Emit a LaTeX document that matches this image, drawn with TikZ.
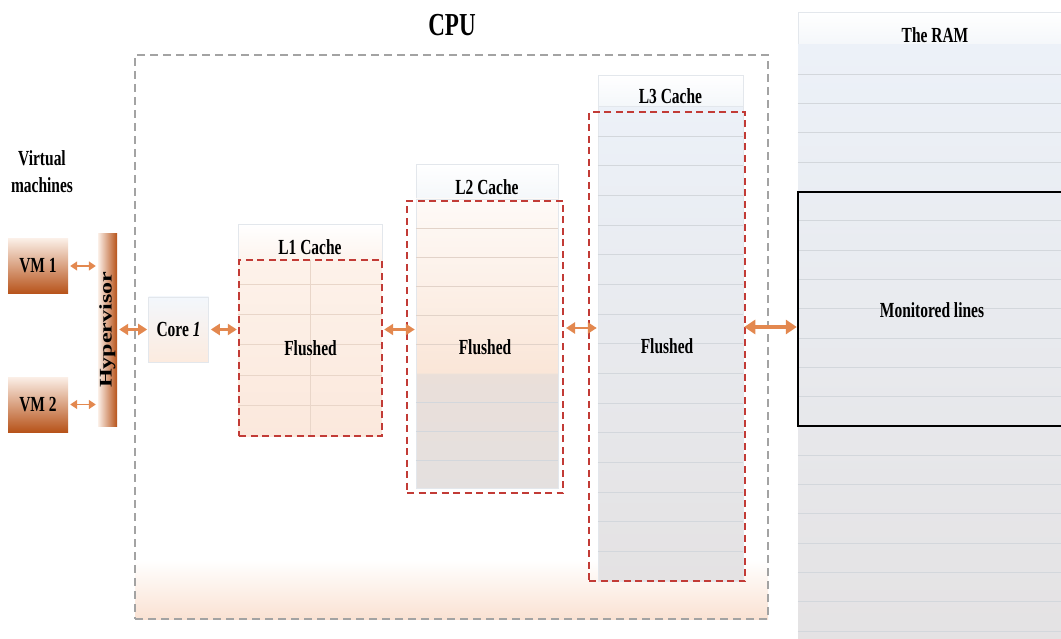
\documentclass[tikz,border=0pt]{standalone}
\usepackage{fontspec}
\setmainfont{Liberation Serif}[FakeStretch=0.72]
\newfontfamily\uprightserif{Liberation Serif}
\usetikzlibrary{arrows.meta}

% palette
\definecolor{linkc}{HTML}{E3884F}
\definecolor{flushc}{HTML}{C23B36}
\definecolor{cpuc}{HTML}{A3A3A3}
\definecolor{cpupeach}{HTML}{FAE2D3}
\definecolor{vmtop}{HTML}{FBEFE7}
\definecolor{vmmid}{HTML}{E8AA80}
\definecolor{vmbot}{HTML}{B7531A}
\definecolor{hdrwarm}{HTML}{FDF4EE}
\definecolor{hdrcool}{HTML}{F4F7FA}
\definecolor{hdredge}{HTML}{E3E7EC}
\definecolor{lonetop}{HTML}{FDF2EA}
\definecolor{lonebot}{HTML}{FBE8DC}
\definecolor{lonerow}{HTML}{E9D6C9}
\definecolor{ltwoupa}{HTML}{FEFAF7}
\definecolor{ltwoupb}{HTML}{FAE6D8}
\definecolor{ltwoloa}{HTML}{EADFD9}
\definecolor{ltwolob}{HTML}{E4E0DF}
\definecolor{ltworow}{HTML}{E2D3C9}
\definecolor{cooltop}{HTML}{ECF1F8}
\definecolor{coolmid}{HTML}{EDE6E2}
\definecolor{coolbot}{HTML}{E4E2E3}
\definecolor{coolrow}{HTML}{D3D7DC}
\definecolor{coretop}{HTML}{F3F7FC}
\definecolor{corebot}{HTML}{FCEBDF}

% L2 body: warm upper part, greyish lower part
\pgfdeclareverticalshading{ltwoshade}{100bp}{color(0bp)=(ltwolob); color(25bp)=(ltwolob); color(44.7bp)=(ltwoloa); color(45bp)=(ltwoupb); color(75bp)=(ltwoupa); color(100bp)=(ltwoupa)}

\begin{document}
\begin{tikzpicture}[x=1pt,y=-1pt,
  lbl/.style={font=\fontsize{21.5}{27}\selectfont\bfseries},
  cpubox/.style={draw=cpuc, line width=1.6pt, dash pattern=on 8pt off 5pt, inner sep=0pt},
  vmbox/.style={lbl, top color=vmtop, middle color=vmmid, bottom color=vmbot, minimum width=60pt, minimum height=55pt, inner sep=0pt},
  hypbar/.style={left color=vmtop, middle color=vmmid, right color=vmbot, minimum width=19pt, minimum height=192pt, inner sep=0pt},
  corebox/.style={lbl, top color=coretop, bottom color=corebot, draw=hdredge, line width=0.6pt, minimum width=60pt, minimum height=65pt, inner sep=0pt},
  hdr/.style={lbl, draw=hdredge, line width=0.6pt, inner sep=0pt, text depth=0pt},
  flush/.style={lbl, draw=flushc, line width=2pt, dash pattern=on 7pt off 4.5pt, inner sep=0pt},
  rowline/.style={line width=0.8pt},
  linkthin/.style={draw=linkc, line width=1.6pt, {Triangle[length=7pt,width=9pt]}-{Triangle[length=7pt,width=9pt]}, shorten <=2pt, shorten >=2pt},
  link/.style={draw=linkc, line width=2.4pt, {Triangle[length=9pt,width=11pt]}-{Triangle[length=9pt,width=11pt]}, shorten <=2pt, shorten >=1pt},
  linkbig/.style={draw=linkc, line width=3.2pt, {Triangle[length=11pt,width=14pt]}-{Triangle[length=11pt,width=14pt]}, shorten <=1pt, shorten >=1pt},
]
\useasboundingbox (0,0) rectangle (1061,639);

% ---------- CPU package ----------
\fill[top color=white, bottom color=cpupeach] (135,560) rectangle (768,619);
\node[cpubox, minimum width=633pt, minimum height=564pt] (cpu) at (451.5,337) {};
\node[font=\fontsize{32}{36}\selectfont\bfseries] (cputitle) at (452,25) {CPU};

% ---------- virtual machines and hypervisor ----------
\node[lbl, align=center] (vmtitle) at (42,172) {Virtual\\machines};
\node[vmbox] (vm1) at (38,266) {VM 1};
\node[vmbox] (vm2) at (38,404.5) {VM 2};
\node[hypbar] (hyp) at (107.5,330)
  {\rotatebox{90}{\scalebox{1}[0.74]{\uprightserif\bfseries\fontsize{24}{24}\selectfont Hypervisor}}};

% ---------- core ----------
\node[corebox] (core) at (178.5,329.5) {Core \textit{1}};

% ---------- L1 cache ----------
\node[hdr, top color=white, bottom color=hdrwarm, minimum width=144pt, minimum height=36pt, text height=26pt] (l1h) at (310,242) {L1 Cache};
\node[top color=lonetop, bottom color=lonebot, minimum width=144pt, minimum height=176pt, inner sep=0pt] (l1) at (310,348) {};
\foreach \yy in {284,314,344,375,405}
  \draw[rowline, lonerow] (l1.west |- 0,\yy) -- (l1.east |- 0,\yy);
\draw[rowline, lonerow] (l1.north) -- (l1.south);
\node[flush, minimum width=143pt, minimum height=176pt] (f1) at (310.5,348) {Flushed};

% ---------- L2 cache ----------
\node[hdr, top color=white, bottom color=hdrcool, minimum width=142pt, minimum height=35pt, text height=27pt] (l2h) at (487,181.5) {L2 Cache};
\node[shading=ltwoshade, draw=hdredge, line width=0.5pt, minimum width=142pt, minimum height=289pt, inner sep=0pt] (l2) at (487,343.5) {};
\foreach \yy in {228,257,286,315,344}
  \draw[rowline, ltworow] (l2.west |- 0,\yy) -- (l2.east |- 0,\yy);
\foreach \yy in {402,431,460}
  \draw[rowline, coolrow] (l2.west |- 0,\yy) -- (l2.east |- 0,\yy);
\node[flush, minimum width=156pt, minimum height=292pt] (f2) at (485,347) {Flushed};

% ---------- L3 cache ----------
\node[hdr, top color=white, bottom color=hdrcool, minimum width=145pt, minimum height=31pt, text height=27pt] (l3h) at (670.5,90.5) {L3 Cache};
\node[top color=cooltop, middle color=coolmid, bottom color=coolbot, draw=hdredge, line width=0.5pt, minimum width=145pt, minimum height=475pt, inner sep=0pt] (l3) at (670.5,343.75) {};
\foreach \k in {1,...,15}
  \draw[rowline, coolrow] (l3.west |- 0,{106.5+29.65*\k}) -- (l3.east |- 0,{106.5+29.65*\k});
\node[flush, minimum width=156pt, minimum height=469pt] (f3) at (667,346.5) {Flushed};

% ---------- main memory ----------
\node[hdr, top color=white, bottom color=hdrcool, minimum width=274pt, minimum height=33pt, text height=29pt] (ramh) at (935,28.5) {The RAM};
\node[top color=cooltop, middle color=coolmid, bottom color=coolbot, minimum width=274pt, minimum height=605pt, inner sep=0pt] (ram) at (935,347.5) {};
\foreach \k in {1,...,20}
  \draw[rowline, coolrow] (ram.west |- 0,{45+29.3*\k}) -- (ram.east |- 0,{45+29.3*\k});
\node[draw=black, line width=2.2pt, minimum width=272pt, minimum height=234pt, inner sep=0pt] (mon) at (934,309) {};
\node[lbl] (monlabel) at (932,310) {Monitored lines};

% ---------- links ----------
\draw[linkthin] (vm1.east) -- (vm1.east -| hyp.west);
\draw[linkthin] (vm2.east) -- (vm2.east -| hyp.west);
\draw[link] (hyp.east |- core.west) -- (core.west);
\draw[link] (core.east) -- (core.east -| l1.west);
\draw[link] (l1.east |- core.east) -- (l2.west |- core.east);
\draw[link] (f2.east |- 0,328) -- (l3.west |- 0,328);
\draw[linkbig] (l3.east |- 0,327) -- (ram.west |- 0,327);
\end{tikzpicture}
\end{document}
